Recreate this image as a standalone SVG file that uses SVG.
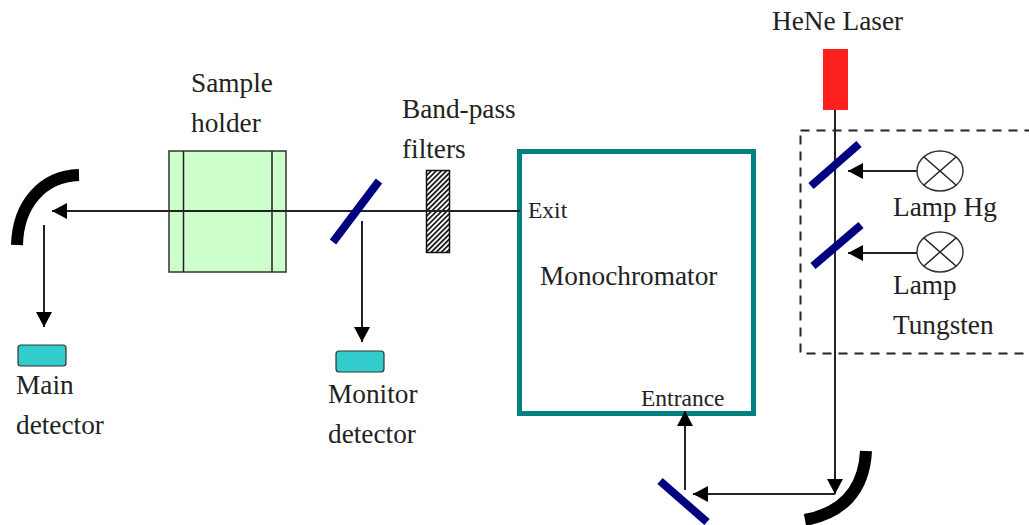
<svg xmlns="http://www.w3.org/2000/svg" width="1029" height="525" viewBox="0 0 1029 525">
<style>
text{font-family:"Liberation Serif","Times New Roman",serif;font-size:27.300px;fill:#222}
.small{font-size:23.500px}
.line{stroke:#222;stroke-width:2;fill:none}
.arrow{marker-end:url(#ah)}
.mirror{stroke:#000080;stroke-width:8;fill:none}
.curved{stroke:#000;stroke-width:12;fill:none}
.det{fill:#33cccc;stroke:#333;stroke-width:1.2}
.lamp{fill:#fff;stroke:#333;stroke-width:1.4}
.thin{stroke:#222;stroke-width:1.5;fill:none}
</style>
<defs>
<marker id="ah" markerUnits="userSpaceOnUse" markerWidth="16" markerHeight="16" refX="15" refY="8" orient="auto"><path d="M0,0L15,8L0,16Z" fill="#000"/></marker>
<pattern id="hatch" width="3.600" height="3.600" patternUnits="userSpaceOnUse" patternTransform="rotate(-45)"><rect width="3.600" height="3.600" fill="#fff"/><rect width="3.600" height="1.700" fill="#111"/></pattern>
</defs>
<g id="sample-holder">
<rect x="169" y="151" width="117" height="121" fill="#ccffcc" stroke="#333" stroke-width="1.500"/>
<path class="thin" d="M183.500 151V272M272 151V272"/>
<text x="191" y="92">Sample</text><text x="191" y="132">holder</text>
</g>
<g id="band-pass-filters">
<rect x="426.500" y="170.500" width="23" height="82" fill="url(#hatch)" stroke="#111" stroke-width="1.500"/>
<text x="402" y="118">Band-pass</text><text x="402" y="158">filters</text>
</g>
<g id="monochromator">
<rect x="519.500" y="151.500" width="234" height="262" fill="#fff" stroke="#008080" stroke-width="5"/>
<text x="540" y="285">Monochromator</text>
<text class="small" x="528" y="218">Exit</text>
<text class="small" x="641" y="406">Entrance</text>
</g>
<g id="laser"><rect x="823" y="49" width="25" height="61" fill="#ff2020"/><text x="772" y="30">HeNe Laser</text></g>
<g id="lamp-box"><rect x="800.500" y="130.500" width="240" height="223" fill="none" stroke="#222" stroke-width="2" stroke-dasharray="9 7"/></g>
<g id="connectors">
<path class="line arrow" d="M520 211H52"/>
<path class="line arrow" d="M44 225V327"/>
<path class="line arrow" d="M362 221V342"/>
<path class="line arrow" d="M835 110V494"/>
<path class="line arrow" d="M835 494H693"/>
<path class="line arrow" d="M685 490V411"/>
<path class="line arrow" d="M917 171H848"/>
<path class="line arrow" d="M917 253H848"/>
</g>
<g id="main-mirror"><path class="curved" d="M17 245C18 205 42 176 79 175"/></g>
<g id="beam-splitter"><path class="mirror" d="M379 181L333 242"/></g>
<g id="main-detector"><rect x="18" y="345" width="48" height="21" rx="3" class="det"/><text x="16" y="394">Main</text><text x="16" y="434">detector</text></g>
<g id="monitor-detector"><rect x="336" y="351" width="48" height="21" rx="3" class="det"/><text x="328" y="403">Monitor</text><text x="328" y="443">detector</text></g>
<g id="mirror-hg"><path class="mirror" d="M859 144L811 186"/></g>
<g id="mirror-tungsten"><path class="mirror" d="M861 225L813 266"/></g>
<g id="lamp-hg"><ellipse cx="940" cy="171" rx="23" ry="20" class="lamp"/><path class="thin" d="M924 157L956 185M956 157L924 185"/><text x="893" y="216">Lamp Hg</text></g>
<g id="lamp-tungsten"><ellipse cx="940" cy="252" rx="23" ry="20" class="lamp"/><path class="thin" d="M924 238L956 266M956 238L924 266"/><text x="893" y="294">Lamp</text><text x="893" y="334">Tungsten</text></g>
<g id="entrance-mirror"><path class="mirror" d="M660 481L707 522"/></g>
<g id="bottom-mirror"><path class="curved" d="M866 451C864 491 842 513 805 520"/></g>
</svg>
